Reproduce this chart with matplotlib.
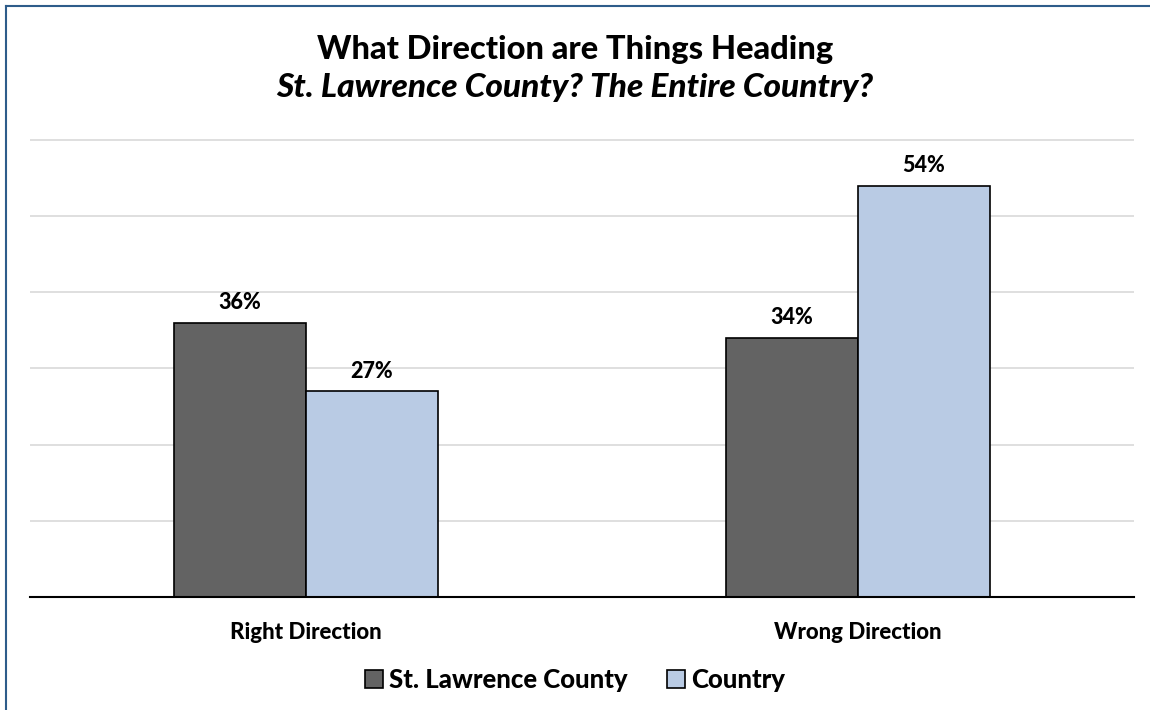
import numpy as np
import matplotlib.pyplot as plt
from matplotlib.lines import Line2D

categories = ['Right Direction', 'Wrong Direction']
county = [36, 34]
country = [27, 54]
series_names = ['St. Lawrence County', 'Country']

plt.rcParams['font.family'] = ['Lato', 'DejaVu Sans']
BOLD = 'black'

fig = plt.figure(figsize=(11.5, 7.1), dpi=100)
ax = fig.add_axes([30 / 1150, 1 - 597 / 710, 1104 / 1150, (597 - 136) / 710])

x = np.arange(len(categories))
w = 0.239
b1 = ax.bar(x - w / 2, county, w, color='#636363', edgecolor='black', linewidth=1.2,
            label=series_names[0], zorder=3)
b2 = ax.bar(x + w / 2, country, w, color='#B9CBE4', edgecolor='black', linewidth=1.2,
            label=series_names[1], zorder=3)

for bars in (b1, b2):
    for r in bars:
        ax.annotate(f'{r.get_height():.0f}%', (r.get_x() + r.get_width() / 2, r.get_height()),
                    xytext=(0, 7), textcoords='offset points', ha='center', va='bottom',
                    fontsize=15.5, fontweight=BOLD)

ax.set_xlim(-0.5, 1.5)
ax.set_ylim(0, 60.5)
ax.set_yticks(range(0, 61, 10))
ax.yaxis.grid(True, color='#D9D9D9', linewidth=1.2, zorder=0)
ax.tick_params(axis='y', left=False, labelleft=False)
ax.tick_params(axis='x', length=0, pad=18)
ax.set_xticks(x)
ax.set_xticklabels(categories, fontsize=16, fontweight=BOLD)
for s in ['top', 'right', 'left']:
    ax.spines[s].set_visible(False)
ax.spines['bottom'].set_color('black')
ax.spines['bottom'].set_linewidth(1.5)
ax.spines['bottom'].set_zorder(4)

fig.text(0.5, 1 - 50 / 710, 'What Direction are Things Heading', ha='center', va='center',
         fontsize=23.5, fontweight=BOLD)
fig.text(0.5, 1 - 88 / 710, 'St. Lawrence County? The Entire Country?', ha='center', va='center',
         fontsize=24, fontweight=BOLD, style='italic')

fig.legend(handles=[b1, b2], labels=series_names, loc='center', bbox_to_anchor=(0.5, 1 - 680 / 710),
           ncol=2, frameon=False, prop={'weight': BOLD, 'size': 18.5},
           handlelength=0.7, handleheight=0.7, handletextpad=0.25, columnspacing=1.5)

# border on top and left
fig.add_artist(Line2D([6 / 1150, 6 / 1150], [0, 1 - 6 / 710], color='#2E5C8A', linewidth=1.5))
fig.add_artist(Line2D([6 / 1150, 1], [1 - 6 / 710, 1 - 6 / 710], color='#2E5C8A', linewidth=1.5))

fig.savefig('out.png')
